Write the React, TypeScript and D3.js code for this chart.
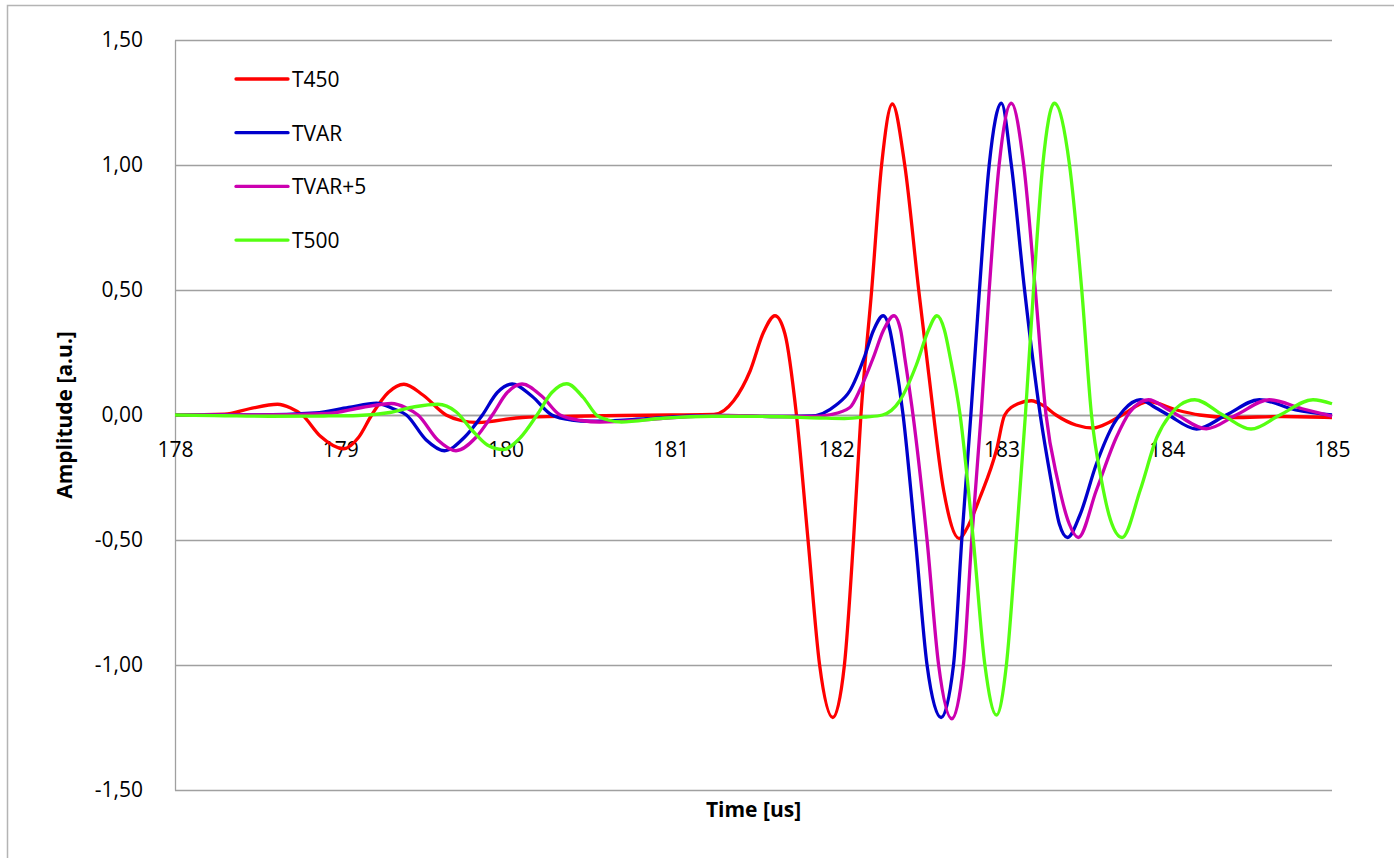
import React, { useEffect, useRef } from 'react'
import { axisBottom, axisLeft, curveMonotoneX, formatLocale, line, scaleLinear, select } from 'd3'

// [time (us), amplitude]
const t450 = [
  [178.0, 0], [178.3, 0.003], [178.45, 0.025], [178.62, 0.043], [178.7, 0.028], [178.77, 0],
  [178.88, -0.085], [179.02, -0.135], [179.11, -0.09], [179.19, 0], [179.29, 0.09], [179.385, 0.123],
  [179.5, 0.08], [179.64, 0], [179.73, -0.022], [179.83, -0.03], [180.1, -0.01],
  [180.4, -0.005], [180.7, -0.002], [181.0, 0], [181.26, 0.002], [181.38, 0.057], [181.48, 0.177],
  [181.56, 0.33], [181.63, 0.397], [181.69, 0.325], [181.76, 0], [181.83, -0.5],
  [181.9, -1.0], [181.98, -1.21], [182.05, -1.0], [182.105, -0.5], [182.15, 0],
  [182.215, 0.5], [182.275, 1.0], [182.34, 1.244], [182.415, 1.0], [182.5, 0.497], [182.56, 0.165],
  [182.65, -0.3], [182.745, -0.494], [182.79, -0.455], [182.87, -0.33],
  [182.97, -0.14], [183.02, 0], [183.1, 0.045], [183.18, 0.057], [183.26, 0.035], [183.33, 0],
  [183.45, -0.04], [183.555, -0.052], [183.65, -0.03], [183.73, 0], [183.89, 0.054], [184.06, 0.02],
  [184.2, 0], [184.4, -0.01], [184.7, -0.006], [185.0, -0.01],
]

const tvar = [
  [178.0, 0], [178.5, 0], [178.85, 0.008], [179.05, 0.03], [179.22, 0.047], [179.32, 0.025],
  [179.4, 0], [179.52, -0.1], [179.63, -0.143], [179.75, -0.09], [179.86, 0], [179.95, 0.09],
  [180.04, 0.124], [180.16, 0.075], [180.28, 0], [180.4, -0.02], [180.51, -0.025], [180.85, -0.015],
  [181.1, -0.005], [181.3, -0.002], [181.6, -0.006], [181.85, -0.004], [182.0, 0.04], [182.083, 0.097],
  [182.17, 0.23], [182.225, 0.337], [182.285, 0.397], [182.325, 0.34], [182.355, 0.23],
  [182.405, 0], [182.48, -0.5], [182.55, -1.0], [182.635, -1.21], [182.71, -1.0],
  [182.76, -0.5], [182.815, 0], [182.867, 0.5], [182.926, 1.0], [183.0, 1.247],
  [183.06, 1.0], [183.14, 0.5], [183.235, 0], [183.3, -0.26], [183.35, -0.435], [183.4, -0.49],
  [183.475, -0.4], [183.575, -0.195], [183.68, -0.035], [183.74, 0.02], [183.84, 0.061], [183.93, 0.03],
  [184.01, 0], [184.18, -0.056], [184.36, 0], [184.56, 0.061], [184.78, 0.02], [185.0, 0],
]

const tvar5 = [
  [178.0, 0], [178.5, 0], [178.92, 0.006], [179.13, 0.03], [179.31, 0.046], [179.4, 0.028],
  [179.47, 0], [179.59, -0.1], [179.7, -0.143], [179.82, -0.09], [179.92, 0], [180.01, 0.09],
  [180.1, 0.124], [180.22, 0.075], [180.33, 0], [180.46, -0.022], [180.57, -0.028], [180.9, -0.016],
  [181.15, -0.005], [181.35, -0.002], [181.65, -0.006], [181.85, -0.006], [181.97, 0.002],
  [182.083, 0.03], [182.15, 0.11], [182.225, 0.23], [182.285, 0.337], [182.35, 0.397], [182.39, 0.34],
  [182.415, 0.23], [182.465, 0], [182.55, -0.5], [182.62, -1.0],
  [182.7, -1.215], [182.77, -1.0], [182.82, -0.5], [182.877, 0], [182.926, 0.5],
  [182.986, 1.0], [183.06, 1.247], [183.135, 1.0], [183.205, 0.5], [183.27, 0], [183.34, -0.26],
  [183.41, -0.435], [183.465, -0.49], [183.575, -0.3], [183.695, -0.09], [183.775, 0.01],
  [183.89, 0.061], [184.0, 0.025], [184.065, 0], [184.24, -0.055], [184.42, 0], [184.62, 0.061],
  [184.82, 0.025], [185.0, -0.005],
]

const t500 = [
  [178.0, 0], [178.3, -0.003], [178.57, -0.005], [178.9, -0.004], [179.11, -0.002], [179.3, 0.01],
  [179.45, 0.033], [179.59, 0.043], [179.7, 0.013], [179.8, -0.063], [179.89, -0.12], [179.985, -0.138],
  [180.09, -0.09], [180.19, 0], [180.28, 0.09], [180.37, 0.125], [180.47, 0.07], [180.55, 0],
  [180.62, -0.02], [180.7, -0.028], [180.95, -0.013], [181.25, -0.005], [181.6, -0.006],
  [181.9, -0.012], [182.05, -0.014], [182.18, -0.008], [182.28, 0], [182.385, 0.057], [182.485, 0.2],
  [182.557, 0.337], [182.61, 0.397], [182.655, 0.34], [182.69, 0.23], [182.75, 0],
  [182.83, -0.5], [182.9, -1.0], [182.97, -1.2], [183.03, -1.0], [183.09, -0.5],
  [183.145, 0], [183.194, 0.5], [183.25, 1.0], [183.32, 1.247], [183.412, 1.0],
  [183.486, 0.5], [183.545, 0], [183.605, -0.26], [183.66, -0.42], [183.73, -0.49], [183.84, -0.3],
  [183.94, -0.09], [184.02, 0], [184.08, 0.04], [184.17, 0.061], [184.34, 0], [184.51, -0.056],
  [184.685, 0], [184.885, 0.061], [185.0, 0.045],
]

const seriesNames = ['T450', 'TVAR', 'TVAR+5', 'T500']
const seriesColors = ['#ff0000', '#0000cc', '#cc00b0', '#55ff11']
const seriesData = [t450, tvar, tvar5, t500]

const xTicks = [178, 179, 180, 181, 182, 183, 184, 185]
const yTicks = [-1.5, -1.0, -0.5, 0, 0.5, 1.0, 1.5]

const FONT = '"Open Sans", "Noto Sans", sans-serif'

const fmt = formatLocale({
  decimal: ',',
  thousands: '.',
  grouping: [3],
  currency: ['', ''],
  minus: '-',
}).format('.2f')

const App = () => {
  const ref = useRef(null)

  useEffect(() => {
    main()
  }, [])

  const main = () => {
    const svg = select(ref.current)
    svg.selectAll('*').remove()

    const left = 175,
      right = 1332,
      top = 40,
      bottom = 790

    const xScale = scaleLinear().domain([178, 185]).range([left, right])
    const yScale = scaleLinear().domain([-1.5, 1.5]).range([bottom, top])

    // outer chart border (right/bottom run off the picture)
    svg
      .append('rect')
      .attr('x', 7.5)
      .attr('y', 5.5)
      .attr('width', 1500)
      .attr('height', 1000)
      .attr('fill', 'none')
      .attr('stroke', '#b4b4b4')
      .attr('stroke-width', 1.5)

    // y axis with gridlines
    const gy = svg
      .append('g')
      .attr('transform', `translate(${left}, 0)`)
      .call(
        axisLeft(yScale)
          .tickValues(yTicks)
          .tickFormat(fmt)
          .tickSize(-(right - left))
          .tickSizeOuter(0)
          .tickPadding(32)
      )
    gy.select('.domain').attr('stroke', '#a0a0a0').attr('stroke-width', 1.3)
    gy.selectAll('.tick line').attr('stroke', '#a0a0a0').attr('stroke-width', 1.3)
    gy.selectAll('.tick text')
      .attr('font-family', FONT)
      .attr('font-size', 21)
      .attr('fill', '#000')

    // x axis labels along the zero line
    const gx = svg
      .append('g')
      .attr('transform', `translate(0, ${yScale(0)})`)
      .call(axisBottom(xScale).tickValues(xTicks).tickFormat((d) => String(d)).tickSize(0).tickPadding(27))
    gx.select('.domain').attr('stroke', '#a0a0a0').attr('stroke-width', 1.3)
    gx.selectAll('.tick text')
      .attr('font-family', FONT)
      .attr('font-size', 21)
      .attr('fill', '#000')

    // series
    const lineGen = line()
      .x((d) => xScale(d[0]))
      .y((d) => yScale(d[1]))
      .curve(curveMonotoneX)

    seriesData.forEach((data, i) => {
      svg
        .append('path')
        .datum(data)
        .attr('d', lineGen)
        .attr('fill', 'none')
        .attr('stroke', seriesColors[i])
        .attr('stroke-width', 3.3)
        .attr('stroke-linejoin', 'round')
    })

    // legend
    const legend = svg.append('g')
    seriesNames.forEach((name, i) => {
      const ly = 79 + i * 53.7
      legend
        .append('line')
        .attr('x1', 236)
        .attr('x2', 288)
        .attr('y1', ly)
        .attr('y2', ly)
        .attr('stroke', seriesColors[i])
        .attr('stroke-width', 3.3)
        .attr('stroke-linecap', 'round')
      legend
        .append('text')
        .attr('x', 292)
        .attr('y', ly + 8)
        .attr('font-family', FONT)
        .attr('font-size', 21)
        .attr('fill', '#000')
        .text(name)
    })

    // axis titles
    svg
      .append('text')
      .attr('x', (left + right) / 2)
      .attr('y', 817)
      .attr('text-anchor', 'middle')
      .attr('font-family', FONT)
      .attr('font-size', 21)
      .attr('font-weight', 'bold')
      .text('Time [us]')

    svg
      .append('text')
      .attr('transform', `translate(72, ${yScale(0)}) rotate(-90)`)
      .attr('text-anchor', 'middle')
      .attr('font-family', FONT)
      .attr('font-size', 21)
      .attr('font-weight', 'bold')
      .text('Amplitude [a.u.]')
  }

  return (
    <svg
      ref={ref}
      width={1394}
      height={858}
      style={{ position: 'absolute', left: 0, top: 0, background: '#fff' }}
    ></svg>
  )
}

export default App
